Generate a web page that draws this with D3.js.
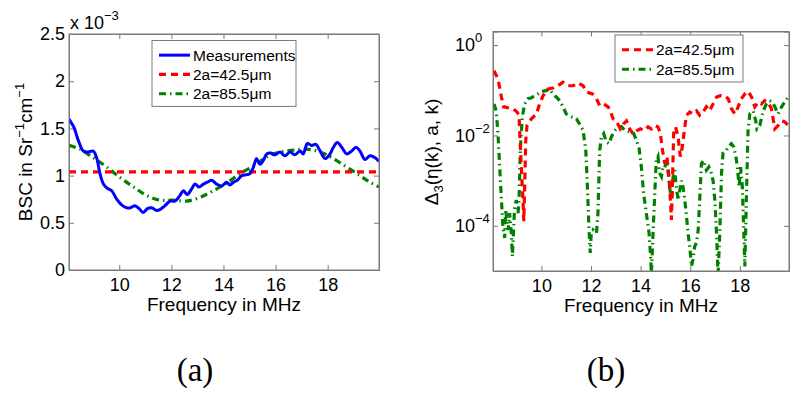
<!DOCTYPE html>
<html><head><meta charset="utf-8">
<script src="https://cdn.jsdelivr.net/npm/d3@7"></script>
<style>body{margin:0;background:#fff;} svg{display:block;font-family:"Liberation Sans",Arial,sans-serif;}</style>
</head><body>
<svg id="c" width="800" height="401"></svg>
<script>
// ---------- DATA ----------
// Panel (a): BSC in units of 1e-3 Sr^-1 cm^-1
const measFreq = [8.07,8.26,8.43,8.62,8.81,9.0,9.13,9.26,9.39,9.52,9.71,9.9,10.09,10.28,10.43,10.6,10.76,10.92,11.08,11.24,11.43,11.56,11.75,11.95,12.14,12.33,12.46,12.61,12.78,12.91,13.06,13.23,13.38,13.55,13.74,13.93,14.12,14.25,14.38,14.53,14.7,14.89,15.02,15.15,15.27,15.4,15.53,15.66,15.81,15.98,16.17,16.36,16.55,16.74,16.94,17.06,17.22,17.38,17.55,17.71,17.9,18.09,18.22,18.37,18.54,18.73,18.92,19.09,19.24,19.43,19.62,19.82,19.97];
const measVals = [1.60,1.51,1.37,1.26,1.25,1.26,1.19,1.02,0.91,0.87,0.84,0.75,0.69,0.66,0.66,0.68,0.65,0.61,0.65,0.66,0.63,0.64,0.68,0.73,0.73,0.79,0.84,0.80,0.86,0.91,0.88,0.91,0.93,0.95,0.91,0.89,0.93,0.90,0.93,0.95,1.00,1.01,1.02,1.09,1.18,1.12,1.16,1.23,1.24,1.22,1.25,1.21,1.25,1.22,1.26,1.23,1.34,1.32,1.33,1.26,1.18,1.23,1.30,1.35,1.30,1.23,1.26,1.30,1.26,1.17,1.21,1.19,1.15];
const fit42Freq = [8.07,19.97];
const fit42Vals = [1.04,1.04];
const fit85Freq = [8.07,8.49,9.0,9.52,10.03,10.54,11.05,11.56,12.07,12.59,13.1,13.61,14.12,14.63,15.15,15.66,16.17,16.68,17.19,17.71,18.22,18.73,19.24,19.62,19.97];
const fit85Vals = [1.32,1.28,1.19,1.09,0.98,0.88,0.79,0.74,0.74,0.73,0.77,0.84,0.92,1.02,1.10,1.20,1.25,1.27,1.28,1.25,1.18,1.09,1.00,0.93,0.88];
const yTicksA = [0,0.5,1,1.5,2,2.5];
const xTicks = [10,12,14,16,18];

// Panel (b): Delta_3 error
const errFreq42 = [8.09,8.25,8.39,8.48,8.65,8.86,9.02,9.10,9.13,9.19,9.26,9.29,9.33,9.37,9.42,9.60,9.80,9.93,10.07,10.27,10.47,10.67,10.87,11.07,11.28,11.48,11.68,11.84,12.06,12.22,12.35,12.51,12.69,12.78,12.89,13.02,13.18,13.31,13.43,13.56,13.70,13.86,13.99,14.17,14.30,14.43,14.56,14.70,14.80,14.86,14.97,15.06,15.14,15.20,15.24,15.28,15.33,15.41,15.51,15.60,15.68,15.78,15.85,15.98,16.11,16.25,16.38,16.52,16.65,16.78,16.92,17.06,17.22,17.39,17.53,17.66,17.80,17.93,18.06,18.20,18.33,18.47,18.60,18.74,18.87,19.00,19.14,19.27,19.41,19.54,19.68,19.81,19.95];
const errVals42 = [0.27,0.18,0.071,0.043,0.041,0.039,0.033,0.028,0.011,0.002,3.7e-4,1.26e-4,8.7e-4,7.8e-3,0.0166,0.0234,0.030,0.050,0.076,0.107,0.112,0.126,0.151,0.126,0.126,0.145,0.126,0.091,0.083,0.065,0.046,0.050,0.043,0.035,0.0234,0.021,0.014,0.018,0.021,0.014,0.0107,0.0129,0.014,0.0129,0.0155,0.014,0.0166,0.0155,0.011,0.0056,0.0024,0.0034,0.00123,3.7e-4,1.35e-4,7.2e-4,0.011,0.0155,0.0093,0.0034,0.0056,0.0155,0.028,0.033,0.030,0.035,0.028,0.033,0.043,0.035,0.050,0.071,0.076,0.076,0.065,0.039,0.030,0.043,0.065,0.083,0.095,0.071,0.043,0.055,0.050,0.059,0.055,0.039,0.014,0.0166,0.021,0.020,0.0166];
const errFreq85 = [8.09,8.18,8.25,8.32,8.39,8.45,8.52,8.56,8.61,8.66,8.72,8.79,8.83,8.88,8.92,8.99,9.06,9.10,9.15,9.23,9.33,9.46,9.60,9.73,9.86,10.00,10.20,10.33,10.47,10.60,10.74,10.87,11.00,11.21,11.41,11.54,11.68,11.79,11.85,11.92,11.97,12.01,12.08,12.15,12.22,12.28,12.35,12.42,12.51,12.62,12.73,12.82,12.96,13.09,13.22,13.36,13.56,13.69,13.83,13.94,14.03,14.12,14.23,14.34,14.41,14.43,14.50,14.57,14.63,14.70,14.77,14.84,14.90,14.97,15.04,15.10,15.17,15.24,15.31,15.37,15.44,15.51,15.58,15.64,15.71,15.78,15.85,15.91,15.98,16.05,16.11,16.18,16.25,16.32,16.38,16.45,16.54,16.65,16.75,16.85,16.92,16.99,17.06,17.12,17.19,17.26,17.32,17.43,17.53,17.66,17.75,17.84,17.90,17.97,18.03,18.10,18.16,18.20,18.26,18.33,18.40,18.53,18.64,18.69,18.80,18.94,19.07,19.20,19.30,19.41,19.54,19.68,19.81,19.95];
const errVals85 = [0.050,0.035,0.011,0.0020,3.7e-4,9.5e-5,5.4e-5,2.3e-4,1.35e-4,8.1e-5,1.9e-4,6.9e-5,2.1e-5,8.1e-5,2.6e-4,3.7e-4,1.9e-4,3.7e-4,4.7e-3,0.026,0.050,0.065,0.068,0.076,0.083,0.095,0.098,0.107,0.083,0.071,0.059,0.043,0.030,0.026,0.0234,0.018,0.0129,4.7e-3,8.7e-4,8.1e-5,2.5e-5,6.9e-5,8.1e-5,7.4e-5,6.9e-5,1.9e-4,4.7e-3,0.0093,0.011,0.0072,0.0066,0.0093,0.0129,0.0155,0.0158,0.0129,0.012,0.012,0.0078,0.0051,0.0020,5.2e-4,1.9e-4,6.9e-5,1.8e-5,8e-6,6.9e-5,5.2e-4,0.0028,0.0034,0.00145,0.00123,0.0020,0.0019,0.0028,0.0017,7.2e-4,3.7e-4,0.00123,0.0017,7.2e-4,3.7e-4,6.2e-4,0.001,7.2e-4,3.7e-4,1.6e-4,6.9e-5,3.5e-5,1.26e-5,1.8e-5,3.5e-5,4.2e-5,8.1e-5,3.7e-4,0.0024,0.0028,0.0017,0.0020,0.00145,0.001,3.7e-4,6.9e-5,8e-6,6.9e-5,0.00145,0.004,0.0044,0.0056,0.0066,0.0056,0.0034,0.0020,7.2e-4,0.0020,7.2e-4,6.9e-5,1.26e-5,3.7e-4,0.0129,0.030,0.035,0.021,0.014,0.0166,0.035,0.050,0.059,0.055,0.043,0.030,0.043,0.055,0.071];
const yTicksB = [1e-4,1e-2,1];
const yTickExpB = ["\u22124","\u22122","0"];

const legendA = ["Measurements","2a=42.5\u03bcm","2a=85.5\u03bcm"];
const legendB = ["2a=42.5\u03bcm","2a=85.5\u03bcm"];

// ---------- STYLES ----------
const BLUE="#0000ff", RED="#ff0000", GREEN="#008000", AX="#7a7a7a";
const styMeas = {stroke:BLUE, dash:null, w:3};
const sty42 = {stroke:RED, dash:"7,5", w:3.2};
const sty85 = {stroke:GREEN, dash:"7,4,1.5,4", w:3.2};
const FONT = "'Liberation Sans',Arial,sans-serif";

const svg = d3.select("#c");
const zip = (a,b)=>a.map((v,i)=>[v,b[i]]);

function frame(g, x, y, L, R, T, B, yAxisFn) {
  g.append("rect").attr("x",L).attr("y",T).attr("width",R-L).attr("height",B-T).attr("fill","#fff");
  const ax = g.append("g").attr("class","axes");
  ax.append("g").attr("transform",`translate(0,${B})`)
    .call(d3.axisBottom(x).tickValues(xTicks).tickSize(-5).tickPadding(8).tickFormat(d3.format("d")));
  ax.append("g").attr("transform",`translate(0,${T})`)
    .call(d3.axisTop(x).tickValues(xTicks).tickSize(-5).tickFormat(""));
  yAxisFn(ax);
  ax.selectAll(".domain").attr("stroke",AX).attr("stroke-width",1);
  ax.selectAll(".tick line").attr("stroke",AX);
  ax.selectAll(".tick text").attr("fill","#000").style("font-size","18px").style("font-family",FONT);
}

function legend(g, items, styles, x0, y0, w, rowH) {
  const h = rowH*items.length + 8;
  g.append("rect").attr("x",x0).attr("y",y0).attr("width",w).attr("height",h)
    .attr("fill","#fff").attr("stroke",AX).attr("stroke-width",1);
  items.forEach((t,i)=>{
    const cy = y0 + 4 + rowH*(i+0.5) + 1;
    const s = styles[i];
    g.append("line").attr("x1",x0+7).attr("x2",x0+38).attr("y1",cy).attr("y2",cy)
      .attr("stroke",s.stroke).attr("stroke-width",s.w).attr("stroke-dasharray",s.dash);
    g.append("text").attr("x",x0+41).attr("y",cy).attr("dy","0.36em")
      .style("font-size","15.5px").text(t);
  });
}

// ---------- PANEL A ----------
{
  const L=69,R=379,T=34,B=270;
  const x = d3.scaleLinear().domain([8.07,19.97]).range([L,R]);
  const y = d3.scaleLinear().domain([0,2.5]).range([B,T]);
  const g = svg.append("g");
  frame(g,x,y,L,R,T,B,(ax)=>{
    ax.append("g").attr("transform",`translate(${L},0)`)
      .call(d3.axisLeft(y).tickValues(yTicksA).tickSize(-5).tickPadding(4).tickFormat(d=>d===0?"0":String(d)));
    ax.append("g").attr("transform",`translate(${R},0)`)
      .call(d3.axisRight(y).tickValues(yTicksA).tickSize(-5).tickFormat(""));
  });
  g.append("clipPath").attr("id","clipA").append("rect").attr("x",L).attr("y",T).attr("width",R-L).attr("height",B-T);
  const line = d3.line().x(d=>x(d[0])).y(d=>y(d[1])).curve(d3.curveCatmullRom.alpha(0.5));
  const lin = d3.line().x(d=>x(d[0])).y(d=>y(d[1]));
  const plot = g.append("g").attr("clip-path","url(#clipA)");
  plot.append("path").attr("d",line(zip(fit85Freq,fit85Vals))).attr("fill","none")
    .attr("stroke",sty85.stroke).attr("stroke-width",sty85.w).attr("stroke-dasharray",sty85.dash);
  plot.append("path").attr("d",lin(zip(fit42Freq,fit42Vals))).attr("fill","none")
    .attr("stroke",sty42.stroke).attr("stroke-width",sty42.w).attr("stroke-dasharray",sty42.dash);
  plot.append("path").attr("d",line(zip(measFreq,measVals))).attr("fill","none")
    .attr("stroke",styMeas.stroke).attr("stroke-width",styMeas.w).attr("stroke-linejoin","round");
  g.append("rect").attr("x",L).attr("y",T).attr("width",R-L).attr("height",B-T).attr("fill","none").attr("stroke",AX);
  legend(g, legendA, [styMeas,sty42,sty85], 152, 40.5, 144, 19.3);
  const ex = g.append("text").attr("x",70).attr("y",29).style("font-size","18px");
  ex.append("tspan").text("x 10");
  ex.append("tspan").attr("dy",-9).style("font-size","13px").text("\u22123");
  g.append("text").attr("x",(L+R)/2).attr("y",311).attr("text-anchor","middle").style("font-size","19px").text("Frequency in MHz");
  const yl = g.append("text").attr("transform","translate(32,152) rotate(-90)").attr("text-anchor","middle").style("font-size","19px");
  yl.append("tspan").text("BSC in Sr");
  yl.append("tspan").attr("dy",-8).style("font-size","13px").text("\u22121");
  yl.append("tspan").attr("dy",8).text("cm");
  yl.append("tspan").attr("dy",-8).style("font-size","13px").text("\u22121");
  g.append("text").attr("x",195).attr("y",381).attr("text-anchor","middle")
    .style("font-family","'Liberation Serif','Times New Roman',serif").style("font-size","33px").text("(a)");
}

// ---------- PANEL B ----------
{
  const L=493,R=789,T=31.5,B=271;
  const x = d3.scaleLinear().domain([8.05,19.98]).range([L,R]);
  const y = d3.scaleLog().domain([1e-5,2]).range([B,T]);
  const g = svg.append("g");
  frame(g,x,y,L,R,T,B,(ax)=>{
    const la = ax.append("g").attr("transform",`translate(${L},0)`)
      .call(d3.axisLeft(y).tickValues(yTicksB).tickSize(-5).tickPadding(22).tickFormat(""));
    la.selectAll(".tick text").each(function(d,i){
      const t = d3.select(this);
      t.append("tspan").text("10");
      t.append("tspan").attr("dy",-9).style("font-size","13px").text(yTickExpB[i]);
    });
    la.selectAll(".tick text").attr("text-anchor","start").attr("x",-38).attr("dy","0.32em");
    ax.append("g").attr("transform",`translate(${R},0)`)
      .call(d3.axisRight(y).tickValues(yTicksB).tickSize(-5).tickFormat(""));
  });
  g.append("clipPath").attr("id","clipB").append("rect").attr("x",L).attr("y",T).attr("width",R-L).attr("height",B-T);
  const lin = d3.line().x(d=>x(d[0])).y(d=>y(d[1]));
  const plot = g.append("g").attr("clip-path","url(#clipB)");
  plot.append("path").attr("d",lin(zip(errFreq85,errVals85))).attr("fill","none")
    .attr("stroke",sty85.stroke).attr("stroke-width",sty85.w).attr("stroke-dasharray",sty85.dash);
  plot.append("path").attr("d",lin(zip(errFreq42,errVals42))).attr("fill","none")
    .attr("stroke",sty42.stroke).attr("stroke-width",sty42.w).attr("stroke-dasharray",sty42.dash);
  g.append("rect").attr("x",L).attr("y",T).attr("width",R-L).attr("height",B-T).attr("fill","none").attr("stroke",AX);
  legend(g, legendB, [sty42,sty85], 615, 35, 128, 19.5);
  g.append("text").attr("x",(L+R)/2).attr("y",312).attr("text-anchor","middle").style("font-size","19px").text("Frequency in MHz");
  const yl = g.append("text").attr("transform","translate(438,152) rotate(-90)").attr("text-anchor","middle").style("font-size","19px");
  yl.append("tspan").text("\u0394");
  yl.append("tspan").attr("dy",5).style("font-size","13px").text("3");
  yl.append("tspan").attr("dy",-5).text("(\u03b7(k), a, k)");
  g.append("text").attr("x",606).attr("y",381).attr("text-anchor","middle")
    .style("font-family","'Liberation Serif','Times New Roman',serif").style("font-size","33px").text("(b)");
}
</script>
</body></html>
